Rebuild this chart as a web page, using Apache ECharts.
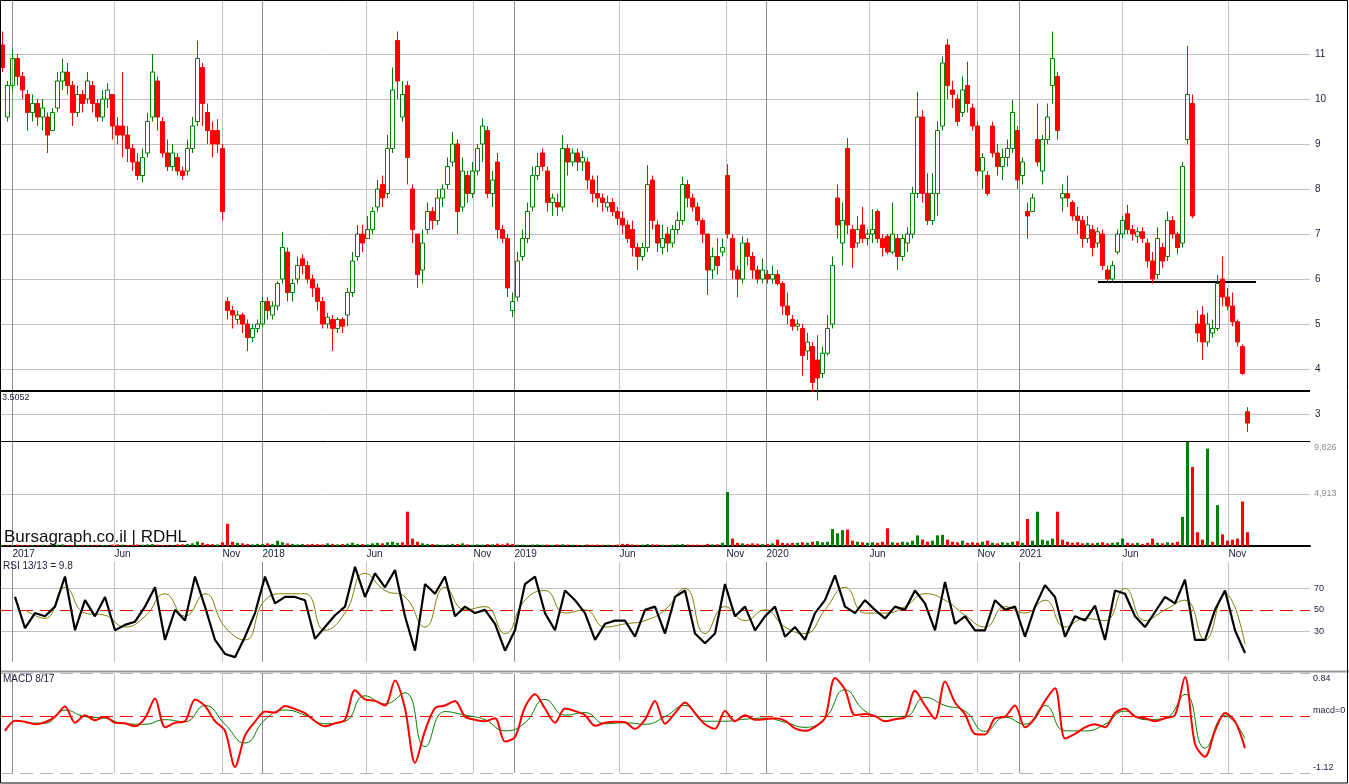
<!DOCTYPE html>
<html>
<head>
<meta charset="utf-8">
<title>RDHL</title>
<script src="https://cdn.jsdelivr.net/npm/echarts@6.0.0/dist/echarts.min.js"></script>
<style>
html,body{margin:0;padding:0;background:#fff;overflow:hidden;}
#chart{width:1349px;height:784px;}
</style>
</head>
<body>
<div id="chart"></div>
<script>
// ---------------- data ----------------
const BAR_DAYS = 5;        // each candle summarises ~5 trading days
const TOTAL_DAYS = 1310;   // trading-day span of the time axis

const priceOpen = [
11.2,9.6,10.3,10.9,10.5,10.1,9.7,9.9,9.6,9.6,
9.3,9.8,10.4,10.6,10.3,9.7,10.1,10.0,10.3,9.9,
9.6,10.0,10.1,9.4,9.4,9.2,8.9,8.6,8.3,8.8,
9.6,10.4,9.5,8.8,8.5,8.7,8.4,8.4,8.9,9.5,
10.7,9.7,9.3,9.3,8.9,5.5,5.3,5.1,5.2,5.0,
4.7,4.9,5.0,5.5,5.2,5.4,6.0,6.6,5.7,6.0,
6.45,6.3,6.0,5.8,5.5,5.0,5.1,4.9,5.1,5.2,
5.7,6.5,7.0,6.9,7.1,7.6,8.1,7.9,8.9,11.3,
9.6,10.3,8.0,7.0,6.2,7.1,7.5,7.3,7.8,8.1,
8.6,9.0,7.6,8.3,7.9,8.4,9.0,9.3,7.9,8.6,
7.1,6.9,5.3,5.6,6.5,6.9,7.6,8.3,8.8,8.4,
7.7,7.7,7.6,8.9,8.6,8.8,8.6,8.6,8.2,7.9,
7.8,7.6,7.7,7.5,7.35,7.2,7.1,6.7,6.5,6.7,
8.2,7.2,6.7,7.0,6.8,7.1,7.3,8.1,7.8,7.6,
7.3,7.0,6.2,6.5,6.6,8.3,6.9,6.2,6.0,6.8,
6.5,6.2,6.0,6.1,6.0,6.1,5.9,5.4,5.1,4.95,
4.9,4.4,4.5,4.2,3.9,4.35,5.0,7.8,6.8,8.9,
7.1,6.8,7.2,6.9,7.0,7.5,6.9,6.95,6.6,6.9,
6.5,6.8,7.0,7.9,9.6,7.9,7.3,7.9,9.4,11.2,
10.2,10.0,9.7,10.3,9.8,9.4,8.4,8.3,9.4,8.8,
8.5,8.7,8.9,9.3,8.3,7.5,7.5,9.1,8.4,9.1,
10.3,10.5,7.8,7.9,7.7,7.4,7.3,6.9,7.1,6.8,
7.0,6.2,6.0,6.6,7.0,7.45,7.1,6.95,7.05,6.8,
6.4,6.1,6.7,6.5,7.3,7.0,6.8,9.1,9.9,5.0,
5.2,4.6,4.8,4.9,6.0,5.6,5.4,5.05,4.5,3.05];

const priceHigh = [
11.5,10.4,11.1,11.0,10.6,10.2,10.1,10.0,10.0,9.7,
9.8,10.6,10.9,10.8,10.4,10.3,10.2,10.6,10.4,10.0,
10.2,10.35,10.1,9.6,10.6,9.4,9.0,8.8,8.9,9.7,
11.0,10.5,9.6,9.1,9.0,8.8,8.5,9.1,9.6,11.3,
10.8,9.9,9.5,9.55,9.0,5.6,5.4,5.3,5.25,5.1,
5.0,5.1,5.6,5.6,5.5,5.95,7.05,6.7,6.0,6.5,
6.55,6.4,6.1,5.9,5.6,5.25,5.2,5.15,5.15,5.8,
6.6,7.2,7.2,7.4,7.6,8.2,8.3,9.2,10.7,11.5,
10.4,10.4,8.1,7.0,7.1,7.7,7.6,8.0,8.1,8.7,
9.27,9.1,8.7,8.4,8.6,9.0,9.57,9.4,8.4,8.8,
7.2,7.0,5.7,6.6,7.1,7.7,8.5,8.8,8.9,8.5,
7.9,7.9,9.2,9.0,8.9,8.9,8.85,8.7,8.3,8.3,
7.9,7.85,7.8,7.6,7.5,7.3,7.3,6.8,6.8,8.53,
8.3,7.3,7.2,7.15,7.2,7.5,8.27,8.2,7.9,7.7,
7.35,7.0,6.7,6.9,6.9,8.55,7.0,6.3,6.95,6.9,
6.6,6.3,6.45,6.2,6.3,6.2,5.95,5.7,5.2,5.1,
5.0,4.8,4.6,4.75,4.5,5.2,6.5,8.1,7.7,9.13,
7.2,7.4,7.6,7.1,7.55,7.55,7.0,7.0,7.7,7.0,
7.0,7.15,8.05,10.16,9.75,8.35,8.35,9.5,10.95,11.33,
10.4,10.1,10.5,10.83,9.9,9.5,8.8,8.4,9.5,9.0,
8.9,9.1,9.98,9.4,8.7,7.7,7.9,9.9,9.2,9.9,
11.5,10.6,8.1,8.3,7.75,7.6,7.4,7.4,7.2,7.15,
7.1,6.3,6.4,7.1,7.4,7.65,7.2,7.15,7.15,6.9,
6.6,7.15,6.8,7.5,7.4,7.05,8.6,11.18,10.1,5.3,
5.4,5.25,5.1,6.1,6.5,5.8,5.7,5.1,4.55,3.15];

const priceLow = [
10.6,9.5,10.2,10.3,10.0,9.3,9.5,9.4,9.3,8.8,
9.3,9.7,10.2,10.1,9.4,9.6,9.7,9.9,9.7,9.5,
9.5,9.8,9.1,9.0,8.7,8.6,8.4,8.2,8.15,8.7,
9.5,9.3,8.7,8.4,8.4,8.3,8.2,8.3,8.8,9.4,
9.4,9.0,8.7,8.8,7.3,5.1,4.9,5.0,4.8,4.4,
4.6,4.8,4.95,5.1,5.1,5.3,5.9,5.5,5.5,5.9,
6.1,5.9,5.6,5.3,4.9,4.9,4.4,4.8,4.8,4.95,
5.6,6.4,6.6,6.9,7.0,7.5,7.6,7.8,8.8,10.0,
9.5,8.1,6.8,5.8,5.9,7.0,7.1,7.2,7.6,8.0,
8.5,7.0,7.5,7.7,7.8,8.3,8.6,7.8,7.6,6.9,
6.8,5.6,5.15,5.5,6.4,6.8,7.5,8.2,8.4,7.5,
7.4,7.4,7.5,8.3,8.5,8.4,8.4,8.0,7.7,7.6,
7.5,7.5,7.4,7.2,7.0,6.8,6.5,6.2,6.4,6.6,
7.1,6.6,6.55,6.6,6.7,7.0,7.2,7.6,7.5,7.2,
6.8,5.65,6.0,6.1,6.5,6.9,6.0,5.6,5.9,6.3,
6.0,5.9,5.9,5.9,5.9,5.85,5.2,5.0,4.85,4.85,
3.85,4.2,3.5,3.3,3.8,4.3,4.9,6.9,6.3,7.0,
6.25,6.7,6.8,6.75,6.8,6.8,6.5,6.55,6.55,6.2,
6.4,6.6,6.9,7.8,7.7,7.2,7.2,7.4,9.3,10.0,
9.8,9.4,9.6,9.7,9.3,8.3,8.0,7.85,8.7,8.3,
8.2,8.5,8.8,8.0,8.1,6.9,7.5,8.5,8.1,9.0,
9.9,9.1,7.5,7.6,7.3,7.0,6.7,6.8,6.5,6.7,
6.2,5.95,5.95,6.55,6.9,7.0,6.85,6.8,6.8,6.25,
5.9,6.0,6.25,6.4,6.9,6.55,6.7,9.0,7.35,4.6,
4.2,4.5,4.7,4.85,5.4,5.3,4.95,4.5,3.87,2.6];

const priceClose = [
10.7,10.3,10.9,10.5,10.2,9.7,9.9,9.6,9.8,9.2,
9.7,10.4,10.6,10.3,9.7,10.1,9.9,10.4,9.9,9.6,
10.0,10.2,9.4,9.2,9.2,8.9,8.6,8.3,8.7,9.5,
10.6,9.6,8.8,8.5,8.8,8.4,8.3,8.9,9.4,10.9,
9.9,9.3,9.0,9.0,7.5,5.3,5.2,5.2,5.0,4.7,
4.9,5.0,5.5,5.3,5.4,5.9,6.7,5.7,5.9,6.3,
6.3,6.0,5.8,5.5,5.0,5.15,4.9,5.1,4.95,5.7,
6.4,7.0,6.8,7.1,7.5,8.0,7.8,8.9,10.2,10.4,
10.1,8.7,7.1,6.1,6.8,7.5,7.3,7.8,8.0,8.5,
9.0,7.5,8.4,7.9,8.4,8.9,9.4,7.9,8.2,7.1,
6.9,5.8,5.5,6.4,6.9,7.5,8.3,8.5,8.5,7.7,
7.8,7.6,8.9,8.6,8.8,8.6,8.7,8.2,7.9,7.8,
7.7,7.7,7.5,7.35,7.2,6.9,6.7,6.5,6.7,8.1,
7.3,6.8,6.9,6.8,7.1,7.3,8.1,7.8,7.6,7.3,
7.0,6.2,6.5,6.3,6.7,7.0,6.2,6.0,6.8,6.5,
6.2,6.0,6.2,6.0,6.1,5.9,5.4,5.2,4.95,5.0,
4.3,4.6,3.7,3.8,4.35,4.9,6.3,7.2,7.3,7.2,
6.7,7.1,6.9,7.0,7.1,6.9,6.7,6.6,7.0,6.5,
6.9,7.0,7.9,9.6,7.9,7.3,7.9,9.3,10.8,10.3,
10.1,9.5,10.2,9.9,9.4,8.4,8.7,7.9,8.8,8.5,
8.7,8.9,9.7,8.2,8.6,7.4,7.8,8.6,9.1,9.6,
10.9,9.3,7.9,7.8,7.4,7.3,6.9,7.2,6.7,7.05,
6.3,6.0,6.3,7.0,7.3,7.1,7.0,7.05,6.9,6.4,
6.0,6.9,6.4,7.3,7.0,6.7,8.5,10.1,7.4,4.8,
4.6,5.0,4.9,5.9,5.6,5.4,5.05,4.6,3.9,2.8];

const volume = [
100,80,90,120,80,100,90,80,120,100,
80,120,150,90,100,80,90,110,80,100,
90,100,120,150,130,100,110,140,120,150,
180,120,100,110,90,150,160,200,250,420,
300,200,180,150,350,2100,400,300,250,200,
150,200,180,250,200,500,350,250,200,150,
180,150,200,170,150,250,200,150,180,220,
300,200,180,150,250,300,250,350,400,300,
350,3240,690,400,250,200,180,150,120,150,
200,180,250,150,120,150,130,180,160,220,
150,250,200,120,130,110,140,150,120,130,
110,150,160,130,120,110,100,140,120,130,
110,120,100,130,200,200,140,120,130,180,
150,140,120,110,130,150,180,140,120,130,
110,200,150,160,300,5100,700,300,250,200,
250,220,180,200,250,600,300,250,280,300,
350,300,400,450,350,400,1600,1200,1500,1550,
500,400,350,300,350,300,400,1670,350,300,
400,350,500,1000,600,400,500,1000,1050,600,
400,350,500,300,350,300,400,500,300,250,
350,300,400,450,300,2550,500,3240,600,500,
700,3240,600,400,300,350,250,300,250,300,
350,250,300,350,700,300,250,300,200,300,
700,300,250,350,300,400,2750,10200,7470,1300,
600,9200,400,3860,1100,500,600,700,4200,1300];

// RSI 13 (black) sampled every 10 trading days from day 15
const RSI_FIRST_DAY = 15, RSI_STEP = 10;
const rsiLine = [
62,33,47,44,53,81,31,59,44,62,31,36,39,53,71,22,50,40,81,53,22,9,6,25,47,81,56,62,62,59,23,34,45,
53,90,62,84,71,87,44,12,74,65,81,44,53,47,50,37,12,31,74,81,47,31,68,59,47,22,37,40,40,25,50,53,28,62,
68,28,19,28,74,44,53,31,44,53,25,34,22,47,59,82,53,47,59,50,42,53,50,68,56,31,76,37,44,31,31,59,50,
53,25,53,73,62,25,44,40,54,22,68,65,44,34,48,62,56,78,22,22,50,68,31,9.8];

// RSI signal 13 (olive) sampled every 20 trading days from day 25
const RSI_SIG_FIRST_DAY = 25, RSI_SIG_STEP = 20;
const rsiSignal = [
50,42,71,47,45,34,44,65,44,65,34,22,59,65,65,31,
47,84,68,62,34,71,50,53,28,59,68,47,50,34,37,40,50,
70,28,53,40,50,34,28,50,71,47,47,53,65,59,45,34,53,
47,59,34,42,40,70,40,50,59,22,65,18];

// MACD 8/17 (red) sampled every 10 trading days from day 5
const MACD_FIRST_DAY = 5, MACD_STEP = 10;
const macdLine = [
-0.29,-0.09,-0.11,-0.16,-0.12,-0.01,0.19,-0.13,0.02,-0.08,-0.01,-0.13,-0.14,-0.20,-0.04,0.35,-0.22,-0.13,-0.10,0.33,0.2,-0.10,-0.29,-1.0,-0.38,-0.11,0.09,0.07,0.2,0.14,0.06,-0.10,-0.20,-0.14,
-0.07,0.51,0.33,0.30,0.21,0.7,0.15,-0.92,-0.29,0.16,0.21,0.3,-0.01,-0.07,-0.10,-0.04,-0.50,-0.41,0.18,0.43,0.15,-0.13,0.15,0.10,0.02,-0.19,-0.13,-0.11,-0.12,-0.25,-0.07,0.3,-0.15,0.06,
0.27,0.06,-0.16,-0.25,0.1,-0.10,0.02,-0.07,-0.06,-0.04,-0.09,-0.24,-0.29,-0.21,-0.04,0.75,0.52,0.02,0.04,0.00,-0.10,-0.06,-0.02,0.5,0.21,-0.05,0.68,0.27,0.04,-0.35,-0.36,-0.04,-0.01,
0.21,-0.22,-0.04,0.30,0.55,-0.44,-0.35,-0.22,-0.16,-0.22,0.06,0.15,-0.01,-0.04,-0.10,-0.04,0.02,0.77,-0.55,-0.8,-0.29,0.06,-0.10,-0.63];

// MACD signal (green) sampled every 20 trading days from day 25
const MACD_SIG_FIRST_DAY = 25, MACD_SIG_STEP = 20;
const macdSignal = [
-0.13,-0.14,0.12,-0.01,-0.04,-0.15,-0.16,-0.07,-0.11,0.21,-0.16,-0.53,-0.07,0.12,0.02,-0.15,
-0.10,0.40,0.24,0.46,-0.60,0.09,0.02,-0.07,-0.29,-0.13,0.33,0.02,0.07,-0.15,-0.13,-0.16,-0.01,
0.21,-0.10,-0.10,-0.06,-0.04,-0.12,-0.22,-0.04,0.52,0.10,-0.01,-0.01,0.37,0.21,0.10,-0.30,-0.02,
-0.16,0.21,-0.29,-0.29,-0.16,0.10,-0.07,-0.04,0.43,-0.63,0.01,-0.44];

// time axis ticks (trading-day index) and their labels
const dateTickDays   = [12,114,222,262,366,473,514,619,726,766,869,977,1019,1122,1228];
const dateTickLabels = ['2017','Jun','Nov','2018','Jun','Nov','2019','Jun','Nov','2020','Jun','Nov','2021','Jun','Nov'];
const priceTicks  = [3,4,5,6,7,8,9,10,11];
const volumeTicks = [4913, 9826];
const rsiLevels   = [30, 50, 70];
const macdLevels  = [-1.12, 0, 0.84];
const supportLevel = 3.5052;
const trendLine = {fromDay: 1098, toDay: 1256, price: 5.94};

// ---------------- chart ----------------
const GREEN = '#008000', RED = '#ff0000';
const TEXT = '#1c1c3c';
const FONT = 'Liberation Sans, Arial, sans-serif';
const GRID_LIGHT = '#c2c2c2', GRID_DARK = '#8e8e8e';

const dayOf = i => i * BAR_DAYS + BAR_DAYS / 2;
const candles = priceOpen.map((o, i) => [dayOf(i), o, priceClose[i], priceLow[i], priceHigh[i]]);
const volData = volume.map((v, i) => ({
  value: [dayOf(i), v],
  itemStyle: {color: (i === 0 || priceClose[i] >= priceClose[i - 1]) ? GREEN : RED}
}));
const series2 = (arr, first, step) => arr.map((v, i) => [first + i * step, v]);

const dateCats = new Array(TOTAL_DAYS).fill('');
dateTickDays.forEach((d, i) => { dateCats[d] = dateTickLabels[i]; });
const isYear = l => /^\d{4}$/.test(l);
const vColor = i => isYear(dateTickLabels[i]) ? GRID_DARK : GRID_LIGHT;
const vLines = dateTickDays.map((d, i) => ({xAxis: d, lineStyle: {color: vColor(i), width: 1, type: 'solid'}}));

const RSI_AX_MIN = 0, RSI_AX_MAX = 100;
const rsiVLines = dateTickDays.map((d, i) => [
  {coord: [d, 1.7], lineStyle: {color: vColor(i), width: 1, type: 'solid'}},
  {coord: [d, 94.7]}
]);

const dash = [13, 7];
function helper(idx, marks) {
  return {
    type: 'line', xAxisIndex: idx, yAxisIndex: idx, data: [], silent: true, z: 1,
    markLine: {
      silent: true, animation: false, symbol: ['none', 'none'],
      label: {show: false},
      lineStyle: {type: 'solid', width: 1, color: GRID_LIGHT},
      data: marks
    }
  };
}

const priceMarks = [
  ...priceTicks.map(v => ({yAxis: v, lineStyle: {color: GRID_LIGHT, width: 1, type: 'solid'}})),
  ...vLines,
  {yAxis: supportLevel, lineStyle: {color: '#000', width: 2, type: 'solid'},
   label: {show: true, position: 'insideStartBottom', formatter: String(supportLevel),
            color: TEXT, fontSize: 9, fontFamily: FONT, distance: 2}},
  [{coord: [trendLine.fromDay, trendLine.price], lineStyle: {color: '#000', width: 2, type: 'solid'}},
   {coord: [trendLine.toDay, trendLine.price]}]
];
const volMarks = [
  {yAxis: volumeTicks[0], lineStyle: {color: GRID_LIGHT, width: 1, type: 'solid'}},
  ...vLines
];
const rsiMarks = [
  {yAxis: 70, lineStyle: {color: GRID_LIGHT, width: 1, type: 'solid'}},
  {yAxis: 30, lineStyle: {color: GRID_LIGHT, width: 1, type: 'solid'}},
  {yAxis: 50, lineStyle: {color: RED, width: 1, type: dash}},
  ...rsiVLines
];
const macdMarks = [
  {yAxis: 0.84, lineStyle: {color: '#b4b4b4', width: 1, type: dash}},
  {yAxis: -1.12, lineStyle: {color: '#b4b4b4', width: 1, type: dash}},
  {yAxis: 0, lineStyle: {color: RED, width: 1, type: dash}},
  ...vLines
];

const hiddenX = idx => ({gridIndex: idx, type: 'value', min: 0, max: TOTAL_DAYS, show: false});
const axisLabelBase = {color: TEXT, fontFamily: FONT, fontSize: 9, margin: 4, showMinLabel: true, showMaxLabel: true};

const option = {
  animation: false,
  backgroundColor: '#ffffff',
  textStyle: {fontFamily: FONT},
  title: [
    {text: 'Bursagraph.co.il | RDHL', left: 4, top: 529, padding: 0,
     textStyle: {fontFamily: FONT, fontSize: 17, fontWeight: 'normal', color: '#111'}},
    {text: 'RSI 13/13 = ' + rsiLine[rsiLine.length - 1], left: 3, top: 561, padding: 0,
     textStyle: {fontFamily: FONT, fontSize: 10, fontWeight: 'normal', color: TEXT}},
    {text: 'MACD 8/17', left: 3, top: 674, padding: 0,
     textStyle: {fontFamily: FONT, fontSize: 10, fontWeight: 'normal', color: TEXT}}
  ],
  grid: [
    {left: 0, top: 0, width: TOTAL_DAYS, height: 441},
    {left: 0, top: 442, width: TOTAL_DAYS, height: 104},
    {left: 0, top: 556.1, width: TOTAL_DAYS, height: 107.5},
    {left: 0, top: 673.5, width: TOTAL_DAYS, height: 106.5}
  ],
  xAxis: [
    {gridIndex: 0, type: 'value', min: 0, max: TOTAL_DAYS, position: 'bottom',
     axisLine: {show: true, onZero: false, lineStyle: {color: '#000', width: 1}},
     axisTick: {show: false}, axisLabel: {show: false}, splitLine: {show: false}},
    {gridIndex: 1, type: 'value', min: 0, max: TOTAL_DAYS, position: 'bottom',
     axisLine: {show: true, onZero: false, lineStyle: {color: '#000', width: 2}},
     axisTick: {show: false}, axisLabel: {show: false}, splitLine: {show: false}},
    hiddenX(2),
    hiddenX(3),
    {gridIndex: 1, type: 'category', position: 'bottom', data: dateCats, boundaryGap: true,
     axisLine: {show: false}, axisTick: {show: false}, splitLine: {show: false},
     axisLabel: {interval: (i, v) => v !== '', align: 'left', margin: 3,
                 color: TEXT, fontFamily: FONT, fontSize: 10}}
  ],
  yAxis: [
    {gridIndex: 0, type: 'value', position: 'right', min: 2.4, max: 12.2, splitNumber: 10,
     minInterval: 1, maxInterval: 1,
     axisLine: {show: false}, axisTick: {show: false}, splitLine: {show: false},
     axisLabel: Object.assign({}, axisLabelBase, {fontSize: 10, margin: 5,
       formatter: v => priceTicks.includes(v) ? String(v) : ''})},
    {gridIndex: 1, type: 'value', position: 'right', min: 0, max: volumeTicks[1], interval: volumeTicks[0],
     axisLine: {show: false}, axisTick: {show: false}, splitLine: {show: false},
     axisLabel: Object.assign({}, axisLabelBase, {color: '#8c8c8c', lineHeight: 11,
       formatter: v => v === volumeTicks[1] ? '\n' + v.toLocaleString('en-US')
                     : (v === volumeTicks[0] ? v.toLocaleString('en-US') : '')})},
    {gridIndex: 2, type: 'value', position: 'right', min: RSI_AX_MIN, max: RSI_AX_MAX, interval: 10,
     axisLine: {show: false}, axisTick: {show: false}, splitLine: {show: false},
     axisLabel: Object.assign({}, axisLabelBase, {formatter: v => rsiLevels.includes(v) ? String(v) : ''})},
    {gridIndex: 3, type: 'value', position: 'right', min: macdLevels[0], max: macdLevels[2],
     axisLine: {show: false}, axisTick: {show: false}, splitLine: {show: false},
     axisLabel: Object.assign({}, axisLabelBase, {margin: 3, lineHeight: 11,
       formatter: v => v === macdLevels[2] ? '\n' + v : (v === 0 ? 'macd=0\n' : (v === macdLevels[0] ? v + '\n' : ''))})}
  ],
  graphic: [
    {type: 'line', silent: true, z: 50, shape: {x1: 0, y1: 671.5, x2: 1349, y2: 671.5},
     style: {stroke: '#999999', lineWidth: 2}},
    {type: 'rect', silent: true, z: 100, shape: {x: 0.5, y: 0.5, width: 1347, height: 782.5},
     style: {fill: 'none', stroke: '#000', lineWidth: 1}}
  ],
  series: [
    helper(0, priceMarks),
    helper(1, volMarks),
    helper(2, rsiMarks),
    helper(3, macdMarks),
    {type: 'candlestick', name: 'RDHL', xAxisIndex: 0, yAxisIndex: 0, data: candles,
     barWidth: 4, z: 6,
     itemStyle: {color: 'rgba(255,255,255,0)', color0: RED, borderColor: GREEN, borderColor0: RED, borderWidth: 1}},
    {type: 'bar', name: 'Volume', xAxisIndex: 1, yAxisIndex: 1, data: volData, barWidth: 3, z: 6},
    {type: 'line', name: 'RSI signal', xAxisIndex: 2, yAxisIndex: 2,
     data: series2(rsiSignal, RSI_SIG_FIRST_DAY, RSI_SIG_STEP),
     symbol: 'none', smooth: true, lineStyle: {color: '#808000', width: 1}, z: 6},
    {type: 'line', name: 'RSI', xAxisIndex: 2, yAxisIndex: 2,
     data: series2(rsiLine, RSI_FIRST_DAY, RSI_STEP),
     symbol: 'none', lineStyle: {color: '#000', width: 2.2}, z: 7},
    {type: 'line', name: 'MACD signal', xAxisIndex: 3, yAxisIndex: 3,
     data: series2(macdSignal, MACD_SIG_FIRST_DAY, MACD_SIG_STEP),
     symbol: 'none', smooth: true, lineStyle: {color: GREEN, width: 1}, z: 6},
    {type: 'line', name: 'MACD', xAxisIndex: 3, yAxisIndex: 3,
     data: series2(macdLine, MACD_FIRST_DAY, MACD_STEP),
     symbol: 'none', smooth: 0.3, lineStyle: {color: RED, width: 2}, z: 7}
  ]
};

const chart = echarts.init(document.getElementById('chart'), null, {renderer: 'canvas'});
chart.setOption(option);
</script>
</body>
</html>
